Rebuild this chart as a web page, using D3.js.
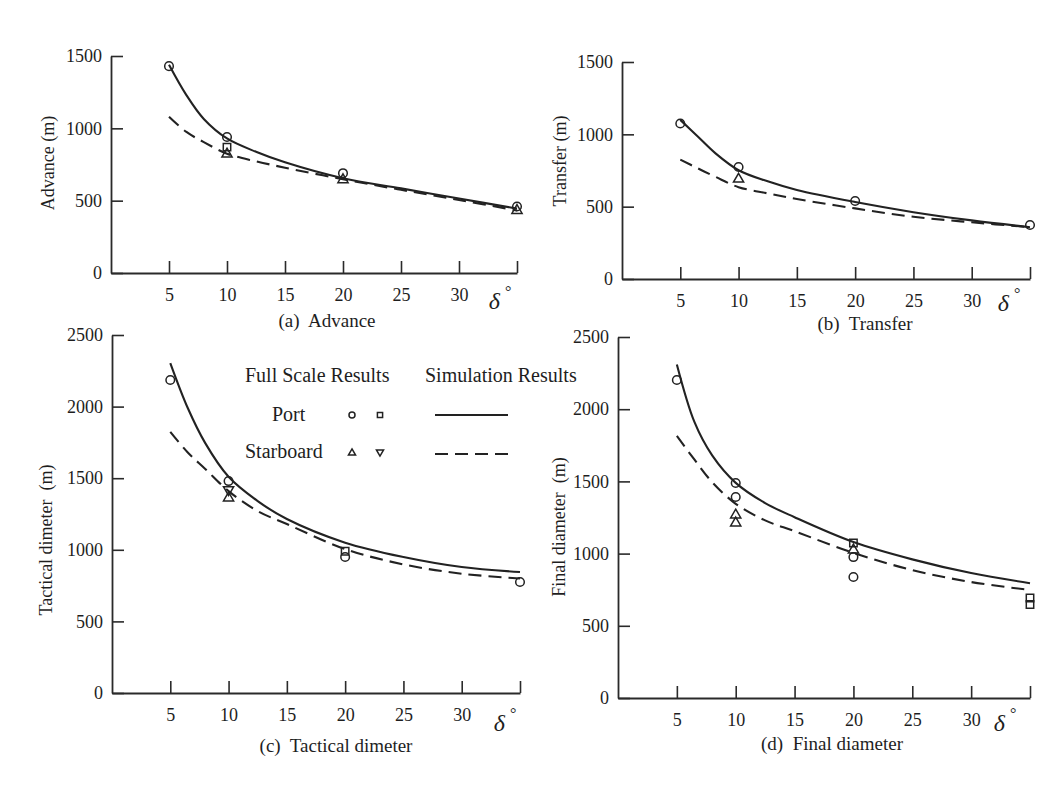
<!DOCTYPE html>
<html>
<head>
<meta charset="utf-8">
<script src="https://cdn.jsdelivr.net/npm/d3@7/dist/d3.min.js"></script>
<style>
  html, body { margin: 0; padding: 0; background: #ffffff; }
  svg { display: block; }
  text { font-family: "Liberation Serif", "Times New Roman", serif; fill: #1e1e1e; }
</style>
</head>
<body>
<svg id="chart" width="1048" height="785"></svg>
<script>
// ---------------- DATA ----------------
const simDeltas = [5, 6.5, 8, 10, 12.5, 15, 20, 25, 30, 35];
const xTickValues = [5, 10, 15, 20, 25, 30, 35];
const xTickLabels = ["5", "10", "15", "20", "25", "30", ""];
const yTicksSmall = [0, 500, 1000, 1500];
const yTicksLarge = [0, 500, 1000, 1500, 2000, 2500];

// Simulation results (solid = port, dashed = starboard)
const advanceSolid   = [1440, 1230, 1065, 930, 838, 765, 655, 585, 515, 445];
const advanceDashed  = [1080, 975, 905, 825, 772, 728, 648, 575, 505, 432];
const transferSolid  = [1100, 985, 870, 752, 675, 615, 532, 462, 405, 358];
const transferDashed = [825, 765, 707, 635, 592, 553, 488, 430, 392, 358];
const tacticalSolid  = [2304, 1990, 1745, 1510, 1340, 1215, 1050, 950, 880, 845];
const tacticalDashed = [1823, 1680, 1565, 1410, 1270, 1180, 1005, 898, 833, 800];
const finalSolid     = [2310, 1910, 1680, 1490, 1350, 1252, 1080, 960, 865, 795];
const finalDashed    = [1815, 1650, 1495, 1345, 1230, 1155, 1005, 886, 803, 748];

// Full scale results [delta, value]
const advancePortCircle = [[5, 1430], [10, 940], [20, 690], [35, 460]];
const advancePortSquare = [[10, 870]];
const advanceStbdTri    = [[10, 822], [20, 645], [35, 432]];
const advanceStbdInv    = [];

const transferPortCircle = [[5, 1075], [10, 774], [20, 539], [35, 373]];
const transferPortSquare = [];
const transferStbdTri    = [[10, 690]];
const transferStbdInv    = [];

const tacticalPortCircle = [[5, 2186], [10, 1480], [20, 950], [35, 775]];
const tacticalPortSquare = [[20, 990]];
const tacticalStbdTri    = [[10, 1362]];
const tacticalStbdInv    = [[10, 1420]];

const finalPortCircle = [[5, 2202], [10, 1489], [10, 1392], [20, 976], [20, 838]];
const finalPortSquare = [[20, 1073], [35, 692], [35, 648]];
const finalStbdTri    = [[10, 1267], [10, 1212], [20, 1025]];
const finalStbdInv    = [];

const panelTitles = ["(a)  Advance", "(b)  Transfer", "(c)  Tactical dimeter", "(d)  Final diameter"];
const yTitles = ["Advance (m)", "Transfer (m)", "Tactical dimeter  (m)", "Final diameter  (m)"];
const legendHeader = ["Full Scale Results", "Simulation Results"];
const legendRows = ["Port", "Starboard"];

// ---------------- LAYOUT ----------------
const panels = [
  { x0: 111, x1: 517, yB: 273, yT: 56, yMax: 1500, yTicks: yTicksSmall,
    solid: advanceSolid, dashed: advanceDashed,
    pts: [advancePortCircle, advancePortSquare, advanceStbdTri, advanceStbdInv],
    title: panelTitles[0], titleX: 327, titleY: 327,
    yTitle: yTitles[0], yTitleX: 54, yTitleY: 163, deltaX: 500, deltaY: 309 },
  { x0: 622, x1: 1030, yB: 279, yT: 62, yMax: 1500, yTicks: yTicksSmall,
    solid: transferSolid, dashed: transferDashed,
    pts: [transferPortCircle, transferPortSquare, transferStbdTri, transferStbdInv],
    title: panelTitles[1], titleX: 865, titleY: 330,
    yTitle: yTitles[1], yTitleX: 566, yTitleY: 161, deltaX: 1009, deltaY: 311 },
  { x0: 112, x1: 520, yB: 693, yT: 335, yMax: 2500, yTicks: yTicksLarge,
    solid: tacticalSolid, dashed: tacticalDashed,
    pts: [tacticalPortCircle, tacticalPortSquare, tacticalStbdTri, tacticalStbdInv],
    title: panelTitles[2], titleX: 336, titleY: 752,
    yTitle: yTitles[2], yTitleX: 52, yTitleY: 540, deltaX: 505, deltaY: 731 },
  { x0: 618, x1: 1030, yB: 698, yT: 337, yMax: 2500, yTicks: yTicksLarge,
    solid: finalSolid, dashed: finalDashed,
    pts: [finalPortCircle, finalPortSquare, finalStbdTri, finalStbdInv],
    title: panelTitles[3], titleX: 832, titleY: 750,
    yTitle: yTitles[3], yTitleX: 565, yTitleY: 527, deltaX: 1005, deltaY: 731 }
];

const svg = d3.select("#chart");
svg.append("rect").attr("width", 1048).attr("height", 785).attr("fill", "#ffffff");

const ink = "#222";

function drawMarker(g, kind, cx, cy, scale) {
  const s = scale || 1;
  if (kind === 0) {
    g.append("circle").attr("cx", cx).attr("cy", cy).attr("r", 4.3 * s)
      .attr("fill", "none").attr("stroke", ink).attr("stroke-width", 1.5);
  } else if (kind === 1) {
    g.append("path").attr("d", d3.symbol().type(d3.symbolSquare).size(55 * s * s)())
      .attr("transform", `translate(${cx},${cy})`)
      .attr("fill", "none").attr("stroke", ink).attr("stroke-width", 1.5);
  } else if (kind === 2) {
    g.append("path").attr("d", d3.symbol().type(d3.symbolTriangle).size(45 * s * s)())
      .attr("transform", `translate(${cx},${cy})`)
      .attr("fill", "none").attr("stroke", ink).attr("stroke-width", 1.5);
  } else {
    g.append("path").attr("d", d3.symbol().type(d3.symbolTriangle).size(45 * s * s)())
      .attr("transform", `translate(${cx},${cy}) rotate(180)`)
      .attr("fill", "none").attr("stroke", ink).attr("stroke-width", 1.5);
  }
}

panels.forEach(p => {
  const g = svg.append("g");
  const x = d3.scaleLinear().domain([0, 35]).range([p.x0, p.x1]);
  const y = d3.scaleLinear().domain([0, p.yMax]).range([p.yB, p.yT]);

  // y axis (ticks inward)
  const ya = g.append("g").attr("transform", `translate(${p.x0},0)`)
    .call(d3.axisLeft(y).tickValues(p.yTicks).tickSize(-12).tickSizeOuter(0).tickPadding(9)
      .tickFormat(d3.format("d")));
  // x axis (ticks inward)
  const xa = g.append("g").attr("transform", `translate(0,${p.yB})`)
    .call(d3.axisBottom(x).tickValues(xTickValues).tickSize(-12).tickSizeOuter(0).tickPadding(15)
      .tickFormat((d, i) => xTickLabels[i]));
  [ya, xa].forEach(a => {
    a.selectAll("path.domain").attr("stroke", "#2a2a2a").attr("stroke-width", 1.8);
    a.selectAll(".tick line").attr("stroke", "#2a2a2a").attr("stroke-width", 1.6);
    a.selectAll("text").attr("font-size", 18)
      .attr("font-family", '"Liberation Serif", "Times New Roman", serif').attr("fill", "#1e1e1e");
  });

  // simulation curves
  const line = d3.line().x((d, i) => x(simDeltas[i])).y(d => y(d)).curve(d3.curveCatmullRom.alpha(0.5));
  g.append("path").attr("d", line(p.solid)).attr("fill", "none")
    .attr("stroke", ink).attr("stroke-width", 2.1);
  g.append("path").attr("d", line(p.dashed)).attr("fill", "none")
    .attr("stroke", ink).attr("stroke-width", 2.1).attr("stroke-dasharray", "13,7");

  // full scale markers
  p.pts.forEach((arr, kind) => {
    arr.forEach(d => drawMarker(g, kind, x(d[0]), y(d[1])));
  });

  // delta label
  const dl = g.append("text").attr("x", p.deltaX).attr("y", p.deltaY)
    .attr("text-anchor", "middle").attr("font-size", 24).attr("font-style", "italic");
  dl.append("tspan").text("δ");
  dl.append("tspan").attr("dx", 5).attr("dy", -12).attr("font-size", 16).attr("font-style", "normal").text("°");

  // panel title
  g.append("text").attr("x", p.titleX).attr("y", p.titleY).attr("text-anchor", "middle")
    .attr("font-size", 19).style("white-space", "pre").text(p.title);

  // y title
  g.append("text").attr("transform", `translate(${p.yTitleX},${p.yTitleY}) rotate(-90)`)
    .attr("text-anchor", "middle").attr("font-size", 18).style("white-space", "pre").text(p.yTitle);
});

// ---------------- LEGEND ----------------
const lg = svg.append("g");
lg.append("text").attr("x", 245).attr("y", 382).attr("font-size", 20).text(legendHeader[0]);
lg.append("text").attr("x", 425).attr("y", 382).attr("font-size", 20).text(legendHeader[1]);
lg.append("text").attr("x", 272).attr("y", 421).attr("font-size", 20).text(legendRows[0]);
lg.append("text").attr("x", 245).attr("y", 458).attr("font-size", 20).text(legendRows[1]);
drawMarker(lg, 0, 352, 415, 0.7);
drawMarker(lg, 1, 380, 415, 0.7);
drawMarker(lg, 2, 352, 453, 0.7);
drawMarker(lg, 3, 380, 452, 0.7);
lg.append("line").attr("x1", 435).attr("x2", 508).attr("y1", 415).attr("y2", 415)
  .attr("stroke", ink).attr("stroke-width", 2.1);
lg.append("line").attr("x1", 435).attr("x2", 508).attr("y1", 454).attr("y2", 454)
  .attr("stroke", ink).attr("stroke-width", 2.1).attr("stroke-dasharray", "13,7");
</script>
</body>
</html>
